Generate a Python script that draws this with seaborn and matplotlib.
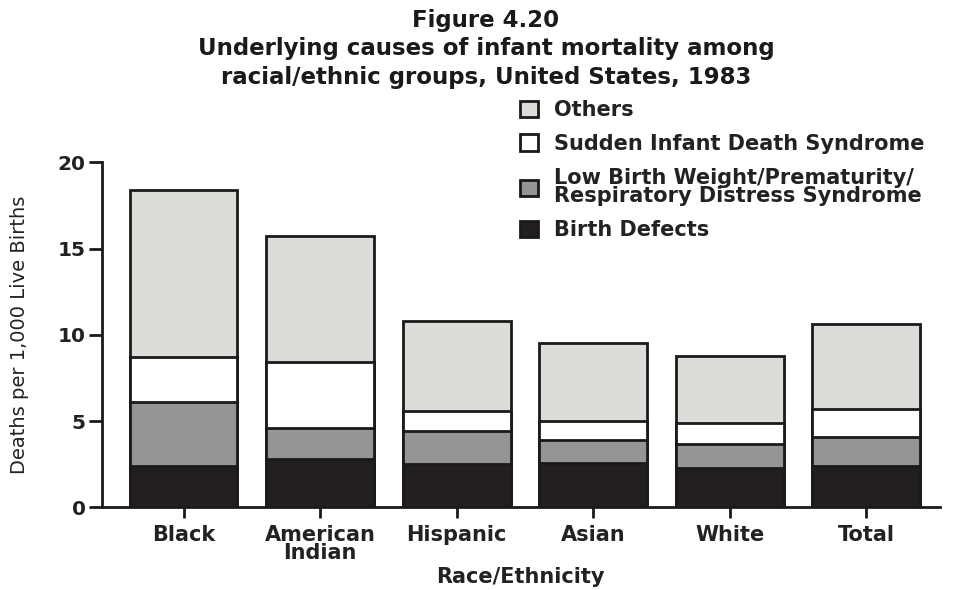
import numpy as np
import pandas as pd
import matplotlib
matplotlib.use("Agg")
import matplotlib.pyplot as plt
from matplotlib.patches import Patch
import seaborn as sns

# Race/ethnicity groups and deaths per 1,000 live births by underlying cause
groups = ["Black", "American\nIndian", "Hispanic", "Asian", "White", "Total"]
birth_defects = [2.4, 2.8, 2.5, 2.6, 2.3, 2.4]
low_birth_weight = [3.7, 1.8, 1.9, 1.3, 1.4, 1.7]
sids = [2.6, 3.8, 1.2, 1.1, 1.2, 1.6]
others = [9.7, 7.3, 5.2, 4.5, 3.9, 4.9]

causes = ["Birth Defects",
          "Low Birth Weight/Prematurity/\nRespiratory Distress Syndrome",
          "Sudden Infant Death Syndrome",
          "Others"]
colors = ["#231f1e", "#959595", "#ffffff", "#dcdcd9"]

sns.set_theme(style="ticks")
plt.rcParams["font.family"] = ["DejaVu Sans"]

df = pd.DataFrame({"group": groups,
                   causes[0]: birth_defects,
                   causes[1]: low_birth_weight,
                   causes[2]: sids,
                   causes[3]: others})
cum = df[causes].cumsum(axis=1)

fig = plt.figure(figsize=(9.68, 5.90), dpi=100)
ax = fig.add_axes([0.105, 0.140, 0.866, 0.585])

edge = "#1a1a1a"
text_color = "#222222"
# Stacked bars: draw cumulative totals from the top layer downwards
for cause, color in zip(reversed(causes), reversed(colors)):
    sns.barplot(x=df["group"], y=cum[cause], color=color, ax=ax,
                width=0.79, edgecolor=edge, linewidth=2.0,
                saturation=1, errorbar=None)

ax.set_ylim(0, 20)
ax.set_xlim(-0.6, 5.54)
ax.set_yticks([0, 5, 10, 15, 20])
for s in ["top", "right"]:
    ax.spines[s].set_visible(False)
for s in ["left", "bottom"]:
    ax.spines[s].set_linewidth(2.0)
    ax.spines[s].set_color(edge)
ax.tick_params(axis="y", length=9.5, width=2.0, color=edge, pad=2,
               labelsize=14.5, labelcolor=text_color)
ax.tick_params(axis="x", length=8, width=2.0, color=edge, pad=5,
               labelsize=15, labelcolor=text_color)
for lbl in ax.get_xticklabels() + ax.get_yticklabels():
    lbl.set_fontweight("bold")
    lbl.set_linespacing(0.85)

ax.set_xlabel("Race/Ethnicity", fontsize=15, fontweight="bold",
              color=text_color, labelpad=3)
ax.set_ylabel("Deaths per 1,000 Live Births", fontsize=14,
              fontweight="normal", color=text_color, labelpad=21)

fig.text(0.502, 0.985,
         "Figure 4.20\nUnderlying causes of infant mortality among\n"
         "racial/ethnic groups, United States, 1983",
         ha="center", va="top", fontsize=16.5, fontweight="bold",
         color="#1a1a1a", linespacing=1.3)

handles = [Patch(facecolor=c, edgecolor=edge, linewidth=2.0)
           for c in reversed(colors)]
leg = fig.legend(handles, list(reversed(causes)), loc="upper left",
                 bbox_to_anchor=(0.518, 0.862), frameon=False,
                 handlelength=0.85, handleheight=0.85,
                 handletextpad=0.75, labelspacing=0.66,
                 prop={"weight": "bold", "size": 15})
for t in leg.get_texts():
    t.set_color(text_color)
    t.set_linespacing(0.92)

fig.savefig("out.png", dpi=100)
